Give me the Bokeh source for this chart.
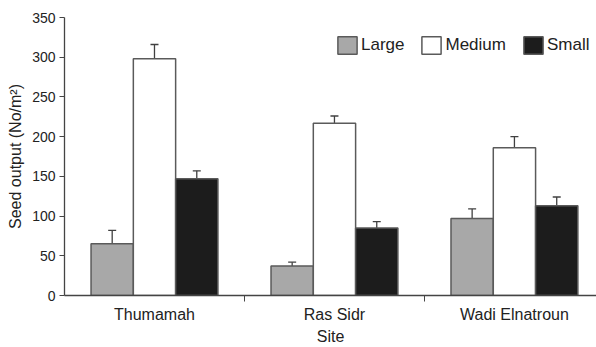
from bokeh.plotting import figure
from bokeh.models import ColumnDataSource, Range1d, FixedTicker, Whisker, TeeHead, Legend, LegendItem
from bokeh.embed import file_html
from bokeh.resources import INLINE

sites = ["Thumamah", "Ras Sidr", "Wadi Elnatroun"]
sizes = ["Large", "Medium", "Small"]
large = [65, 37, 97]
large_err = [17, 5, 12]
medium = [298, 217, 186]
medium_err = [18, 9, 14]
small = [147, 85, 113]
small_err = [10, 8, 11]
y_ticks = [0, 50, 100, 150, 200, 250, 300, 350]

FONT = "Liberation Sans"
fills = {"Large": "#a8a8a8", "Medium": "#ffffff", "Small": "#1c1c1c"}
series = {"Large": (large, large_err), "Medium": (medium, medium_err), "Small": (small, small_err)}
offsets = {"Large": -0.235, "Medium": 0.0, "Small": 0.235}

p = figure(width=596, height=347, output_backend="svg", toolbar_location=None,
           x_range=Range1d(0, 2.956), y_range=Range1d(0, 350),
           min_border_left=64, min_border_top=17, min_border_bottom=51, min_border_right=0)
p.outline_line_color = None
p.xgrid.visible = False
p.ygrid.visible = False
p.background_fill_color = "white"

items = []
centers = [i + 0.5 for i in range(len(sites))]
for s in sizes:
    vals, errs = series[s]
    xs = [c + offsets[s] for c in centers]
    src = ColumnDataSource(dict(x=xs, top=vals, upper=[v + e for v, e in zip(vals, errs)]))
    w = Whisker(source=src, base="x", lower="top", upper="upper", dimension="height",
                line_color="#404040", line_width=1.3,
                upper_head=TeeHead(size=8, line_color="#404040", line_width=1.3), lower_head=None)
    p.add_layout(w)
    r = p.vbar(x="x", top="top", width=0.235, source=src, fill_color=fills[s],
               line_color="#5a5a5a", line_width=1.5)
    items.append(LegendItem(label=s, renderers=[r]))

legend = Legend(items=items, orientation="horizontal", location=(271, 239),
                padding=0, margin=0, spacing=15, glyph_width=24, glyph_height=22,
                label_standoff=2, border_line_color=None, background_fill_alpha=0,
                label_text_font=FONT, label_text_font_size="17px", label_text_color="#222222")
p.add_layout(legend, "center")

for ax in (p.xaxis, p.yaxis):
    ax.axis_line_color = "#444444"
    ax.axis_line_width = 1.3
    ax.major_tick_line_color = "#444444"
    ax.minor_tick_line_color = "#444444"
    ax.major_label_text_font = FONT
    ax.major_label_text_color = "#222222"
    ax.axis_label_text_font = FONT
    ax.axis_label_text_font_style = "normal"
    ax.axis_label_text_color = "#222222"
    ax.axis_label_text_font_size = "16px"

p.yaxis.ticker = FixedTicker(ticks=y_ticks)
p.yaxis.major_tick_out = 5
p.yaxis.major_tick_in = 0
p.yaxis.minor_tick_out = 0
p.yaxis.major_label_text_font_size = "14px"
p.yaxis.major_label_standoff = 4
p.yaxis.axis_label = "Seed output (No/m²)"
p.yaxis.axis_label_standoff = 5

p.xaxis.ticker = FixedTicker(ticks=centers, minor_ticks=[1, 2])
p.xaxis.major_label_overrides = {c: s for c, s in zip(centers, sites)}
p.xaxis.major_tick_out = 0
p.xaxis.major_tick_in = 0
p.xaxis.minor_tick_out = 6
p.xaxis.minor_tick_in = 0
p.xaxis.major_label_text_font_size = "16px"
p.xaxis.major_label_standoff = 4
p.xaxis.axis_label = "Site"
p.xaxis.axis_label_standoff = 2

open("out.html", "w").write(file_html(p, INLINE))
